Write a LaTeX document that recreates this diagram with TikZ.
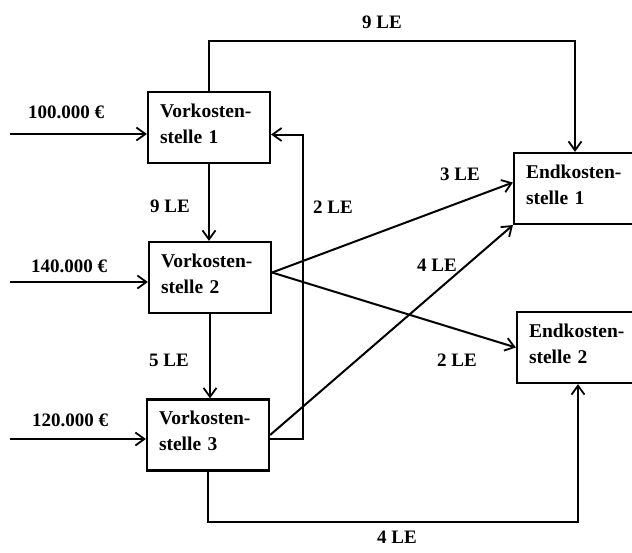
\documentclass[tikz,border=0pt]{standalone}
\usepackage{fontspec}
\setmainfont{Liberation Serif}
\usetikzlibrary{arrows.meta}

\begin{document}
\begin{tikzpicture}[x=1pt, y=-1pt,
    kbox/.style={draw, line width=2.2pt, minimum height=71pt, text width=98pt,
      inner xsep=12pt, align=left, text depth=34pt,
      font=\fontsize{19.5}{26}\selectfont\bfseries},
    lbl/.style={inner sep=0pt, font=\fontsize{19}{23}\selectfont\bfseries},
    flow/.style={line width=2pt,
      -{Straight Barb[length=9pt,width=13pt,line width=1.8pt]}}]
  \useasboundingbox (0,0) rectangle (632,552);
  \clip (0,0) rectangle (632,552);
  % Vorkostenstellen
  \node[kbox] (vk1) at (209,127.5) {Vorkosten-\\stelle 1};
  \node[kbox] (vk2) at (210,277.5) {Vorkosten-\\stelle 2};
  \node[kbox] (vk3) at (208,435) {Vorkosten-\\stelle 3};
  % Endkostenstellen
  \node[kbox] (ek1) at (575,188.5) {Endkosten-\\stelle 1};
  \node[kbox] (ek2) at (578,347.5) {Endkosten-\\stelle 2};
  % primary costs
  \coordinate (in1) at (10,134);
  \coordinate (in2) at (10,282);
  \coordinate (in3) at (10,439);
  \draw[flow] (in1) -- (in1 -| vk1.west);
  \draw[flow] (in2) -- (in2 -| vk2.west);
  \draw[flow] (in3) -- (in3 -| vk3.west);
  \node[lbl] (c1) at (66,112) {100.000 €};
  \node[lbl] (c2) at (69,266) {140.000 €};
  \node[lbl] (c3) at (70,420) {120.000 €};
  % services
  \draw[flow] (vk1.south) -- (vk1.south |- vk2.north);
  \draw[flow] (vk2.south) -- (vk2.south |- vk3.north);
  \draw[flow] (vk1.north) -- ++(0,-50) -| (ek1.north);
  \draw[flow] (vk3.south) -- ++(0,50) -| (ek2.south);
  \draw[flow] ([yshift=-4pt]vk3.east) -- ++(33,0) |- ([yshift=-7pt]vk1.east);
  \draw[flow] ([yshift=5pt]vk2.east) -- ([yshift=6pt]ek1.west);
  \draw[flow] ([yshift=5pt]vk2.east) -- (ek2.west);
  \draw[flow] (vk3.east) -- (ek1.south west);
  \node[lbl] (l1) at (382,22) {9 LE};
  \node[lbl] (l2) at (170,206) {9 LE};
  \node[lbl] (l3) at (169,360) {5 LE};
  \node[lbl] (l4) at (333,207) {2 LE};
  \node[lbl] (l5) at (460,174) {3 LE};
  \node[lbl] (l6) at (437,265) {4 LE};
  \node[lbl] (l7) at (457,360) {2 LE};
  \node[lbl] (l8) at (397,537) {4 LE};
\end{tikzpicture}
\end{document}
